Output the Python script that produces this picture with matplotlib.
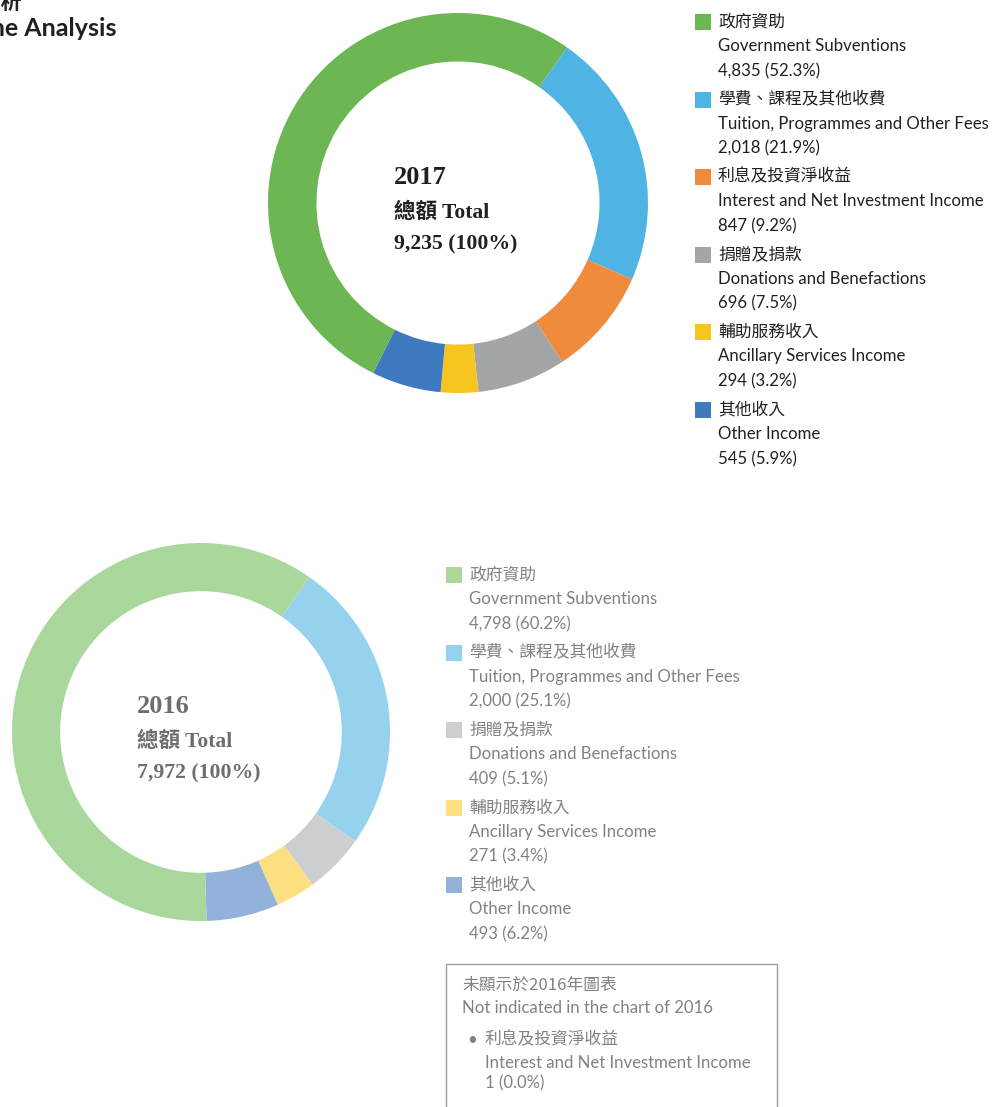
import matplotlib.pyplot as plt
from matplotlib.patches import Rectangle

W, H = 992, 1107

# data (HK$ million)
cats_zh = ["政府資助", "學費、課程及其他收費", "利息及投資淨收益",
           "捐贈及捐款", "輔助服務收入", "其他收入"]
cats_en = ["Government Subventions", "Tuition, Programmes and Other Fees",
           "Interest and Net Investment Income", "Donations and Benefactions",
           "Ancillary Services Income", "Other Income"]
values_2017 = [4835, 2018, 847, 696, 294, 545]
pct_2017 = ["52.3", "21.9", "9.2", "7.5", "3.2", "5.9"]
values_2016 = [4798, 2000, 1, 409, 271, 493]
pct_2016 = ["60.2", "25.1", "0.0", "5.1", "3.4", "6.2"]
total_2017 = 9235
total_2016 = 7972

colors_2017 = ["#6cb653", "#4fb4e3", "#f08a3c", "#a3a5a7", "#f7c520", "#3f79c0"]
colors_2016 = ["#aad79c", "#96d2ee", "#f6c19c", "#ccced0", "#fbdf80", "#93b2db"]

# clockwise drawing order, starting at the top-right boundary
draw_order = [1, 2, 3, 4, 5, 0]

EN = ["Lato", "Noto Sans CJK TC"]
ZH = ["Noto Sans CJK TC", "DejaVu Sans"]
SERIF = ["Liberation Serif", "Noto Sans CJK TC"]
EN_SIZE = 12.1
ZH_SIZE = 12.1

fig = plt.figure(figsize=(W / 100, H / 100), dpi=100)


def fx(px):
    return px / W


def fy(py):
    return 1 - py / H


def donut(cx, cy, r, idx, vals, cols):
    ax = fig.add_axes([fx(cx - r), fy(cy + r), 2 * r / W, 2 * r / H])
    ax.pie([vals[i] for i in idx], colors=[cols[i] for i in idx],
           startangle=55, counterclock=False, radius=1,
           wedgeprops=dict(width=0.255, linewidth=0))
    ax.set_xlim(-1, 1)
    ax.set_ylim(-1, 1)
    ax.axis("off")


donut(458, 203, 190, draw_order, values_2017, colors_2017)
# interest income (index 2) is not drawn in the 2016 chart
donut(201, 732, 189, [i for i in draw_order if i != 2], values_2016, colors_2016)


def centre_text(x, y, year, total, color):
    fig.text(fx(x), fy(y), str(year), family=SERIF, fontweight="bold",
             fontsize=19, color=color, va="baseline")
    fig.text(fx(x), fy(y + 34), "總額 Total", family=SERIF, fontweight="bold",
             fontsize=15.5, color=color, va="baseline")
    fig.text(fx(x), fy(y + 65), f"{total:,} (100%)", family=SERIF,
             fontweight="bold", fontsize=15.7, color=color, va="baseline")


centre_text(394, 184, 2017, total_2017, "#231f20")
centre_text(137, 713, 2016, total_2016, "#6d6e71")


def legend(x, y, idx, vals, pcts, cols, tcolor):
    for k, i in enumerate(idx):
        yy = y + k * 77.6
        fig.patches.append(Rectangle((fx(x), fy(yy + 8)), 16 / W, 16 / H,
                                     transform=fig.transFigure,
                                     facecolor=cols[i], edgecolor="none"))
        fig.text(fx(x + 23), fy(yy), cats_zh[i], family=ZH, fontsize=ZH_SIZE,
                 fontweight="light", color=tcolor, va="center")
        fig.text(fx(x + 23), fy(yy + 24), cats_en[i], family=EN,
                 fontsize=EN_SIZE, color=tcolor, va="center")
        fig.text(fx(x + 23), fy(yy + 49), f"{vals[i]:,} ({pcts[i]}%)",
                 family=EN, fontsize=EN_SIZE, color=tcolor, va="center")


legend(695, 22, [0, 1, 2, 3, 4, 5], values_2017, pct_2017, colors_2017, "#231f20")
legend(446, 575, [0, 1, 3, 4, 5], values_2016, pct_2016, colors_2016, "#808285")

# note box for 2016
fig.patches.append(Rectangle((fx(446), fy(1120)), 331 / W, 156 / H,
                             transform=fig.transFigure, facecolor="none",
                             edgecolor="#9d9fa2", linewidth=1))
gray = "#808285"
fig.text(fx(462), fy(985), "未顯示於2016年圖表", family=ZH, fontsize=ZH_SIZE,
         fontweight="light", color=gray, va="center")
fig.text(fx(462), fy(1008), "Not indicated in the chart of 2016", family=EN,
         fontsize=EN_SIZE, color=gray, va="center")
fig.text(fx(467), fy(1040), "•", family=EN, fontsize=EN_SIZE, color=gray,
         va="center")
fig.text(fx(485), fy(1040), cats_zh[2], family=ZH, fontsize=ZH_SIZE,
         fontweight="light", color=gray, va="center")
fig.text(fx(485), fy(1063), cats_en[2], family=EN, fontsize=EN_SIZE,
         color=gray, va="center")
fig.text(fx(485), fy(1083), f"{values_2016[2]:,} ({pct_2016[2]}%)", family=EN,
         fontsize=EN_SIZE, color=gray, va="center")

# page title, cut off at the top-left as in the source page
fig.text(fx(22), fy(2), "收入分析", family=ZH, fontsize=15, fontweight="bold",
         color="#231f20", ha="right", va="center")
fig.text(fx(116), fy(28), "Income Analysis", family=EN, fontsize=18,
         fontweight="bold", color="#231f20", ha="right", va="center")

fig.savefig("out.png", dpi=100, facecolor="white")
